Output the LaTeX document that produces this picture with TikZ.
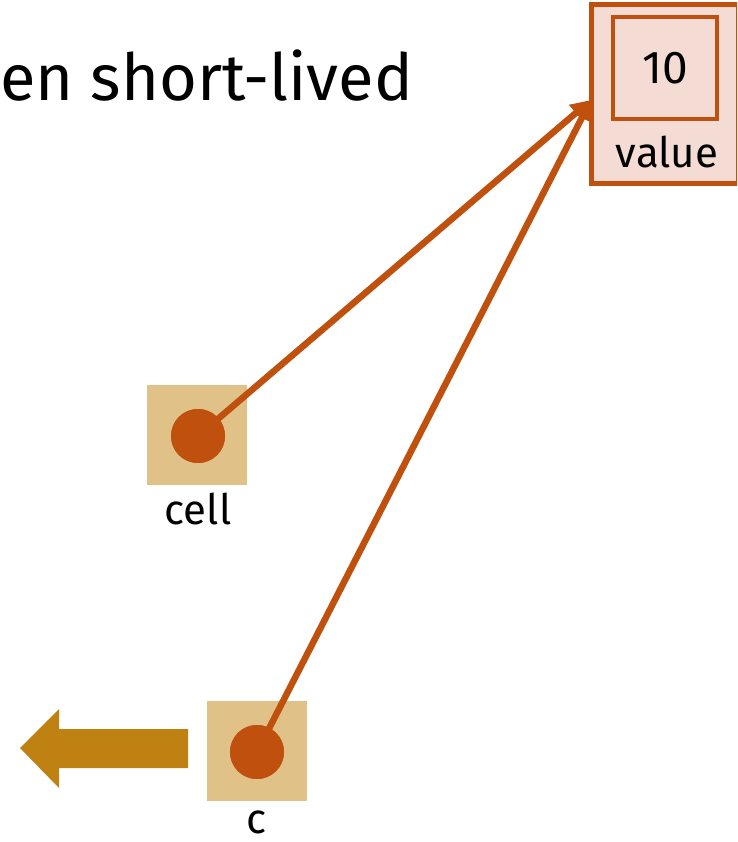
\documentclass[tikz,border=0pt]{standalone}
\usepackage{fontspec}
\setmainfont{Fira Sans}
\usepackage{tikz}
\usetikzlibrary{arrows.meta}
\definecolor{ptrred}{HTML}{C0500E}
\definecolor{slottan}{HTML}{E0C288}
\definecolor{heappink}{HTML}{F4DBD4}
\definecolor{moveyel}{HTML}{BF8212}
\tikzstyle{slot}=[fill=slottan, minimum size=100pt, inner sep=0pt]
\tikzstyle{dot}=[circle, fill=ptrred, minimum size=54pt, inner sep=0pt]
\tikzstyle{ptr}=[draw=ptrred, line width=6.5pt, -{Triangle[length=20pt,width=20pt]}]
\tikzstyle{lbl}=[font=\fontsize{42}{48}\selectfont, inner sep=0pt]

\begin{document}
\begin{tikzpicture}[x=1pt, y=-1pt]
\useasboundingbox (0,0) rectangle (737,842);
\clip (0,0) rectangle (737,842);
\node[anchor=base west, inner sep=0pt, font=\fontsize{65}{76}\selectfont] (title) at (0,101) {en short-lived};

% heap box with the value inside
\node[draw=ptrred, fill=heappink, line width=5pt, minimum width=147pt, minimum height=179pt] (valuebox) at (664.5,94.5) {};
\node[draw=ptrred, line width=4pt, minimum width=104pt, minimum height=102pt, font=\fontsize{46}{52}\selectfont] (num) at (665,68) {10};
\node[lbl, anchor=base] (valuelbl) at (667,168) {value};
\coordinate (hit) at (591,100);

% stack slots
\node[slot] (cell) at (197,435) {};
\node[dot] (celldot) at (198,436) {};
\node[lbl, anchor=base] (celllbl) at (198,524) {cell};
\node[slot] (c) at (257,751) {};
\node[dot] (cdot) at (257,752) {};
\node[lbl, anchor=base] (clbl) at (257,833) {c};

\draw[ptr] (celldot.center) -- (hit);
\draw[ptr] (cdot.center) -- (hit);
\node[dot] at (celldot) {};
\node[dot] at (cdot) {};

% moved out
\fill[moveyel] (188,729) -- (59,729) -- (59,709) -- (20,748) -- (59,788) -- (59,768) -- (188,768) -- cycle;
\end{tikzpicture}
\end{document}
